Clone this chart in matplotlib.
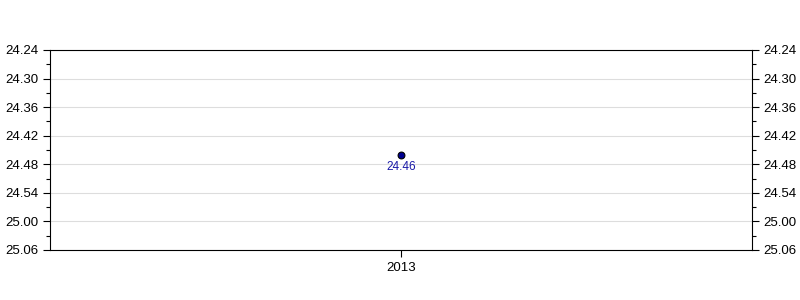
import matplotlib
matplotlib.use('Agg')
import matplotlib.pyplot as plt
from matplotlib.ticker import MultipleLocator, FuncFormatter

plt.rcParams['font.family'] = ['Liberation Sans', 'DejaVu Sans']

years = [2013]
times = ['24.46']  # minutes.seconds
y_min, y_max = '24.24', '25.06'


def to_sec(s):
    m, sec = s.split('.')
    return int(m) * 60 + int(sec)


def fmt(v, pos):
    v = int(round(v))
    return '%d.%02d' % (v // 60, v % 60)


secs = [to_sec(t) for t in times]

fig = plt.figure(figsize=(8, 3), dpi=100)
ax = fig.add_axes([50 / 800, 50 / 300, 702 / 800, 200 / 300])

ax.scatter(years, secs, s=24, color='#000090', edgecolors='black', linewidths=0.8, zorder=3)
for x, y, t in zip(years, secs, times):
    ax.annotate(t, (x, y), xytext=(0, -4.5), textcoords='offset points',
                ha='center', va='top', color='#1a1aa8', fontsize=8.5)

ax.set_xlim(years[0] - 0.5, years[-1] + 0.5)
ax.set_xticks(years)
ax.set_ylim(to_sec(y_max), to_sec(y_min))
ax.yaxis.set_major_locator(MultipleLocator(6))
ax.yaxis.set_minor_locator(MultipleLocator(3))
ax.yaxis.set_major_formatter(FuncFormatter(fmt))
ax.grid(axis='y', color='#dddddd', linewidth=0.8)
ax.set_axisbelow(True)

ax.tick_params(axis='y', which='both', left=True, right=True, labelleft=True, labelright=True,
               direction='out', labelsize=9.5, width=0.8)
ax.tick_params(axis='y', which='major', length=5)
ax.tick_params(axis='y', which='minor', length=3)
ax.tick_params(axis='x', direction='out', length=5, labelsize=9.5)
for sp in ax.spines.values():
    sp.set_linewidth(0.8)

fig.savefig('out.png', dpi=100)
